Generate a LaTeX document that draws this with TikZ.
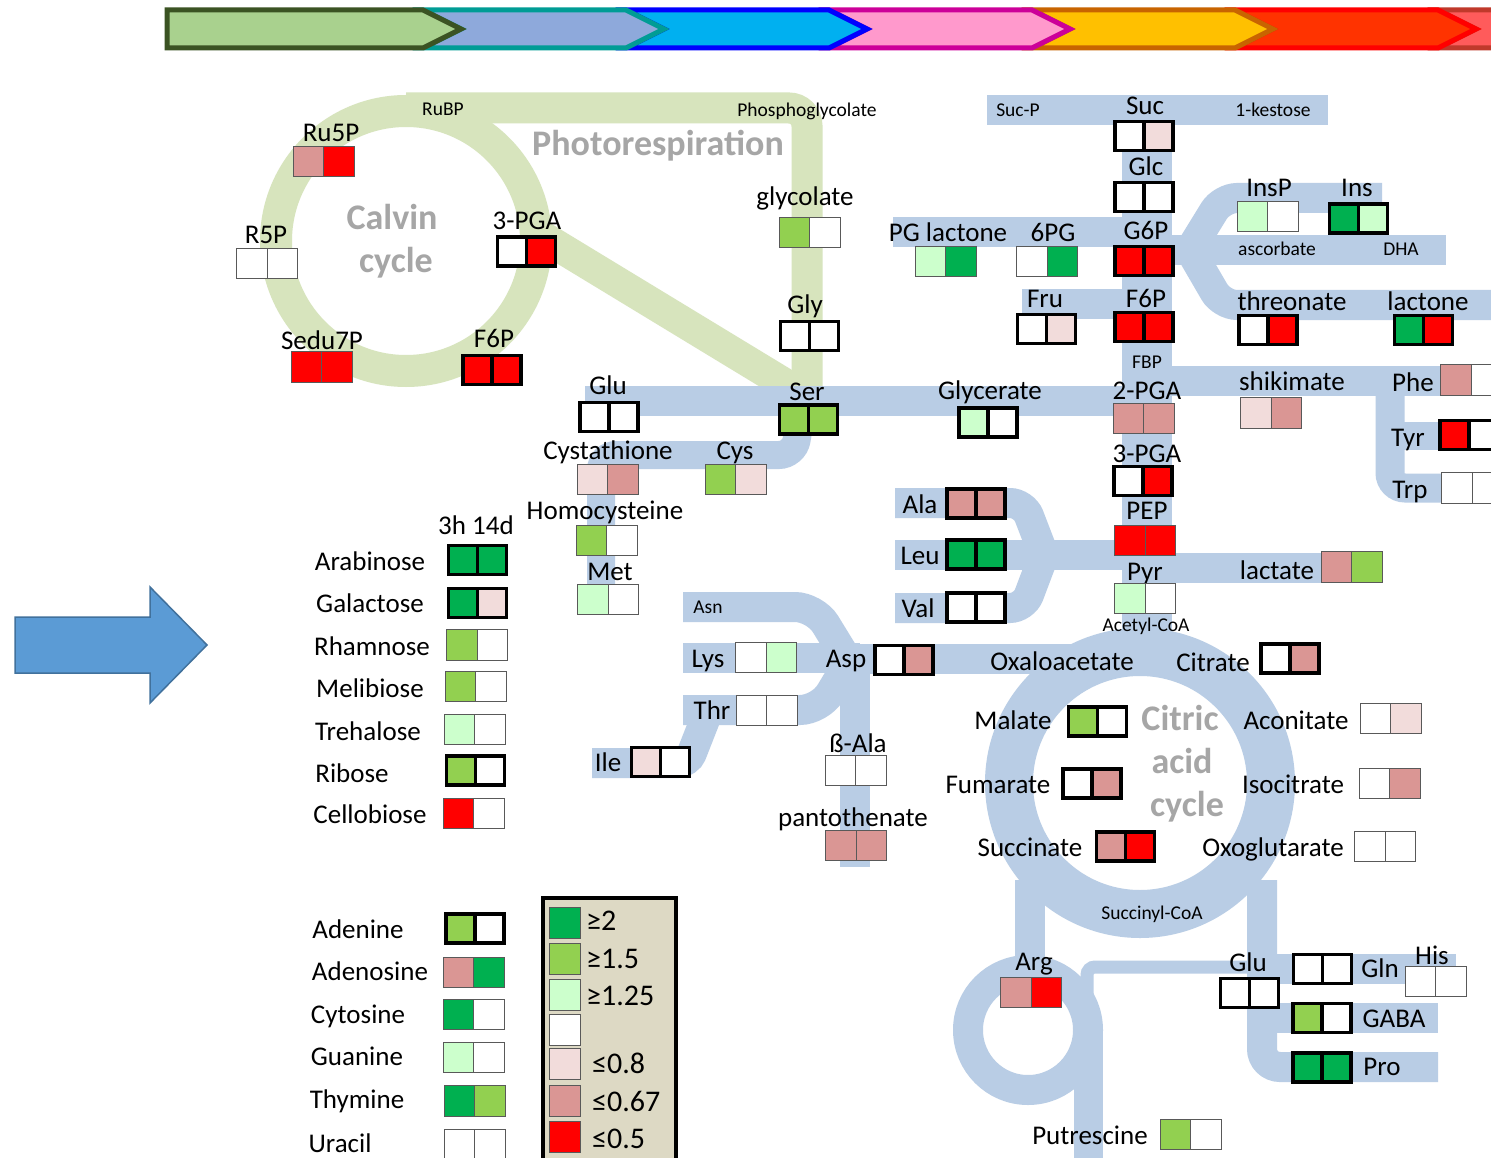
\documentclass[tikz,border=0pt]{standalone}
\usepackage{fontspec}
\setmainfont{Carlito}
\definecolor{dg}{HTML}{00B050}
\definecolor{lg}{HTML}{92D050}
\definecolor{pg}{HTML}{CCFFCC}
\definecolor{pr}{HTML}{F2DCDB}
\definecolor{mr}{HTML}{DA9694}
\definecolor{rr}{HTML}{FF0000}
\definecolor{band}{HTML}{B9CDE5}
\definecolor{gband}{HTML}{D7E4BD}
\definecolor{ttlgray}{HTML}{A6A6A6}
\definecolor{lgd}{HTML}{DDD9C4}
\definecolor{arrowblue}{HTML}{5B9BD5}
\definecolor{arrowedge}{HTML}{41719C}
\definecolor{c1f}{HTML}{A9D18E}\definecolor{c1d}{HTML}{3B5323}
\definecolor{c2f}{HTML}{8EA9DB}\definecolor{c2d}{HTML}{009C95}
\definecolor{c3f}{HTML}{00B0F0}\definecolor{c3d}{HTML}{0000FF}
\definecolor{c4f}{HTML}{FF99CC}\definecolor{c4d}{HTML}{CC0099}
\definecolor{c5f}{HTML}{FFC000}\definecolor{c5d}{HTML}{C86400}
\definecolor{c6f}{HTML}{FF3300}\definecolor{c6d}{HTML}{FF0000}
\definecolor{c7f}{HTML}{FF5B5B}\definecolor{c7d}{HTML}{C0392B}
\newcommand\twocell[5]{%
  \node[#5, fill=#3, anchor=east] (#1-a) at (#2) {};
  \node[#5, fill=#4, anchor=west] (#1-b) at (#2) {};}
\newcommand\chev[4]{% left notch x, tip x, fill, draw
  \draw[fill=#3, draw=#4, line width=5pt, line join=miter] (#1-38,10) -- (#2-38,10) -- (#2,29) -- (#2-38,48) -- (#1-38,48) -- (#1,29) -- cycle;}
\begin{document}
\begin{tikzpicture}[x=1pt,y=-1pt,
  thn/.style={draw=black!65, line width=1pt, minimum width=30.5pt, minimum height=30.5pt, inner sep=0pt, outer sep=0pt},
  thk/.style={draw=black, line width=3.5pt, minimum width=29pt, minimum height=29pt, inner sep=0pt, outer sep=0pt},
  lab/.style={font=\fontsize{27}{32}\selectfont, anchor=base, yshift=-9pt, inner sep=0pt},
  lgl/.style={font=\fontsize{30}{34}\selectfont, anchor=base west, yshift=-10pt, inner sep=0pt},
  sml/.style={font=\fontsize{19.5}{23}\selectfont, anchor=base, yshift=-6.5pt, inner sep=0pt},
  ttl/.style={font=\fontsize{36}{40}\selectfont\bfseries, text=ttlgray, anchor=base, yshift=-12pt, inner sep=0pt},
  bband/.style={draw=band, line width=30pt, rounded corners=15pt},
  gbandst/.style={draw=gband, line width=31pt, rounded corners=18pt},
]
\clip (0,0) rectangle (1491,1158);
\fill[white] (0,0) rectangle (1491,1158);

% ---- top chevron bar
\chev{1476}{1680}{c7f}{c7d}
\chev{1273}{1476}{c6f}{c6d}
\chev{1070}{1273}{c5f}{c5d}
\chev{867}{1070}{c4f}{c4d}
\chev{664}{867}{c3f}{c3d}
\chev{461}{664}{c2f}{c2d}
\draw[fill=c1f, draw=c1d, line width=5pt, line join=miter] (167,10) -- (423,10) -- (461,29) -- (423,48) -- (167,48) -- cycle;

% ---- big arrow
\draw[fill=arrowblue, draw=arrowedge, line width=1.5pt] (15,617) -- (150,617) -- (150,587) -- (207,645) -- (150,703) -- (150,673) -- (15,673) -- cycle;

% ---- green bands (Calvin, photorespiration)
\draw[draw=gband, line width=32pt] (406,241) circle[radius=130];
\draw[gbandst] (406,108) -- (807,108) -- (807,402);
\draw[draw=gband, line width=31pt] (535,232) -- (805,396);

% ---- blue bands
\draw[bband] (987,110) -- (1328,110);
\draw[draw=band, line width=50pt] (1147,110) -- (1147,645);
\draw[bband] (893,232) -- (1147,232);
\draw[bband] (1022,304) -- (1147,304);
\draw[bband] (1147,250) -- (1446,250);
\draw[bband] (1190,250) -- (1222,198) -- (1382,198);
\draw[bband] (1190,250) -- (1222,305) -- (1491,305);
\draw[bband] (1147,381) -- (1455,381);
\draw[bband, line width=29pt] (1390,381) -- (1390,488) -- (1445,488);
\draw[bband, line width=28pt] (1390,436) -- (1445,436);
\draw[bband] (585,401) -- (1147,401);
\draw[bband, line width=28pt] (800,420) -- (794,455) -- (601,455) -- (601,600);
\draw[bband] (895,555) -- (1147,555);
\draw[bband, rounded corners=14pt] (895,503) -- (1024,503) -- (1044,555);
\draw[bband, rounded corners=14pt] (895,608) -- (1024,608) -- (1044,555);
\draw[bband] (1147,568) -- (1330,568);
\draw[bband, rounded corners=20pt] (683,607) -- (815,607) -- (850,664);
\draw[bband] (683,658) -- (860,658);
\draw[bband, rounded corners=20pt] (683,710) -- (820,710) -- (850,660);
\draw[bband, rounded corners=10pt] (592,763) -- (688,763) -- (708,712);
\draw[draw=band, line width=30pt] (855,658) -- (855,867);
\draw[draw=band, line width=30pt] (855,659) -- (1075,659);
\draw[draw=band, line width=48pt] (1140,783) circle[radius=131];
\draw[draw=band, line width=30pt] (1030,880) -- (1030,978);
\draw[bband, rounded corners=18pt] (1262,880) -- (1262,1067) -- (1438,1067);
\draw[bband] (1262,1018) -- (1438,1018);
\draw[bband] (1262,969) -- (1456,969);
\draw[draw=band, line width=30pt] (1028,1030) circle[radius=60];
\draw[draw=band, line width=29pt] (1088,1030) -- (1088,1162);
\draw[draw=band, line width=13pt, rounded corners=8pt] (1087,1010) -- (1087,967) -- (1250,967);

% ---- titles
\node[ttl] (t-photo) at (658,144) {Photorespiration};
\node[ttl] (t-calvin) at (392,218) {Calvin};
\node[ttl] (t-cycle) at (396,261) {cycle};
\node[ttl] (t-citric) at (1180,718) {Citric};
\node[ttl] (t-acid) at (1182,761) {acid};
\node[ttl] (t-cycle2) at (1187,804) {cycle};

% ---- small labels
\node[sml] (s-rubp) at (443,109) {RuBP};
\node[sml] (s-pglyc) at (807,110) {Phosphoglycolate};
\node[sml] (s-sucp) at (1018,110) {Suc-P};
\node[sml] (s-kest) at (1273,110) {1-kestose};
\node[sml] (s-fbp) at (1147,362) {FBP};
\node[sml] (s-asc) at (1277,249) {ascorbate};
\node[sml] (s-dha) at (1401,249) {DHA};
\node[sml] (s-acoa) at (1146,625) {Acetyl-CoA};
\node[sml] (s-asn) at (708,607) {Asn};
\node[sml] (s-succoa) at (1152,913) {Succinyl-CoA};

% ---- labels
\node[lab] (l-ru5p) at (331,133) {Ru5P};
\node[lab] (l-r5p) at (266,235) {R5P};
\node[lab] (l-sedu) at (322,340) {Sedu7P};
\node[lab] (l-pga1) at (527,221) {3-PGA};
\node[lab] (l-f6p1) at (494,338) {F6P};
\node[lab] (l-glycolate) at (805,197) {glycolate};
\node[lab] (l-gly) at (805,304) {Gly};
\node[lab] (l-suc) at (1145,106) {Suc};
\node[lab] (l-glc) at (1146,167) {Glc};
\node[lab] (l-pgl) at (948,233) {PG lactone};
\node[lab] (l-6pg) at (1053,233) {6PG};
\node[lab] (l-g6p) at (1146,231) {G6P};
\node[lab] (l-fru) at (1045,299) {Fru};
\node[lab] (l-f6p) at (1146,299) {F6P};
\node[lab] (l-insp) at (1269,188) {InsP};
\node[lab] (l-ins) at (1357,188) {Ins};
\node[lab] (l-threo) at (1292,301) {threonate};
\node[lab] (l-lact) at (1428,301) {lactone};
\node[lab] (l-glu) at (608,385) {Glu};
\node[lab] (l-ser) at (807,391) {Ser};
\node[lab] (l-glyc) at (990,390) {Glycerate};
\node[lab] (l-2pga) at (1147,390) {2-PGA};
\node[lab] (l-3pga) at (1147,453) {3-PGA};
\node[lab] (l-pep) at (1147,510) {PEP};
\node[lab] (l-pyr) at (1145,571) {Pyr};
\node[lab] (l-shik) at (1292,381) {shikimate};
\node[lab] (l-phe) at (1413,382) {Phe};
\node[lab] (l-tyr) at (1408,437) {Tyr};
\node[lab] (l-trp) at (1410,489) {Trp};
\node[lab] (l-lactate) at (1277,570) {lactate};
\node[lab] (l-cysta) at (608,450) {Cystathione};
\node[lab] (l-cys) at (735,450) {Cys};
\node[lab] (l-homo) at (605,510) {Homocysteine};
\node[lab] (l-met) at (610,571) {Met};
\node[lab] (l-ala) at (920,504) {Ala};
\node[lab] (l-leu) at (920,555) {Leu};
\node[lab] (l-val) at (918,608) {Val};
\node[lab] (l-lys) at (708,658) {Lys};
\node[lab] (l-asp) at (846,658) {Asp};
\node[lab] (l-thr) at (712,710) {Thr};
\node[lab] (l-ile) at (608,762) {Ile};
\node[lab] (l-bala) at (858,743) {ß-Ala};
\node[lab] (l-panto) at (853,817) {pantothenate};
\node[lab] (l-oaa) at (1062,661) {Oxaloacetate};
\node[lab] (l-cit) at (1213,662) {Citrate};
\node[lab] (l-mal) at (1013,720) {Malate};
\node[lab] (l-acon) at (1296,720) {Aconitate};
\node[lab] (l-fum) at (998,784) {Fumarate};
\node[lab] (l-iso) at (1293,784) {Isocitrate};
\node[lab] (l-succ) at (1030,847) {Succinate};
\node[lab] (l-oxo) at (1273,847) {Oxoglutarate};
\node[lab] (l-arg) at (1034,961) {Arg};
\node[lab] (l-glu2) at (1248,962) {Glu};
\node[lab] (l-gln) at (1380,968) {Gln};
\node[lab] (l-his) at (1432,955) {His};
\node[lab] (l-gaba) at (1394,1018) {GABA};
\node[lab] (l-pro) at (1382,1066) {Pro};
\node[lab] (l-put) at (1090,1135) {Putrescine};
\node[lab] (l-head) at (476,525) {3h 14d};
\node[lab] (l-arab) at (370,561) {Arabinose};
\node[lab] (l-gal) at (370,603) {Galactose};
\node[lab] (l-rham) at (372,646) {Rhamnose};
\node[lab] (l-meli) at (370,688) {Melibiose};
\node[lab] (l-treh) at (368,731) {Trehalose};
\node[lab] (l-rib) at (352,773) {Ribose};
\node[lab] (l-cello) at (370,814) {Cellobiose};
\node[lab] (l-aden) at (358,929) {Adenine};
\node[lab] (l-adeno) at (370,971) {Adenosine};
\node[lab] (l-cyto) at (358,1014) {Cytosine};
\node[lab] (l-guan) at (357,1056) {Guanine};
\node[lab] (l-thym) at (357,1099) {Thymine};
\node[lab] (l-ura) at (340,1143) {Uracil};

% ---- boxes
\twocell{b-ru5p}{323.5,161.5}{mr}{rr}{thn}
\twocell{b-r5p}{267,263.5}{white}{white}{thn}
\twocell{b-sedu}{321.5,367}{rr}{rr}{thn}
\twocell{b-pga1}{526.5,251.5}{white}{rr}{thk}
\twocell{b-f6p1}{492,370}{rr}{rr}{thk}
\twocell{b-glycolate}{809.5,232.5}{lg}{white}{thn}
\twocell{b-gly}{809.5,336}{white}{white}{thk}
\twocell{b-suc}{1144,136}{white}{pr}{thk}
\twocell{b-glc}{1144,197}{white}{white}{thk}
\twocell{b-g6p}{1144,261}{rr}{rr}{thk}
\twocell{b-pgl}{945.5,261.5}{pg}{dg}{thn}
\twocell{b-6pg}{1047,261.5}{white}{dg}{thn}
\twocell{b-fru}{1046.5,329}{white}{pr}{thk}
\twocell{b-f6p}{1144,327}{rr}{rr}{thk}
\twocell{b-insp}{1267.5,216.5}{pg}{white}{thn}
\twocell{b-ins}{1358.5,218.5}{dg}{pg}{thk}
\twocell{b-threo}{1268,330}{white}{rr}{thk}
\twocell{b-lact}{1423.5,330}{dg}{rr}{thk}
\twocell{b-2pga}{1143.5,418.5}{mr}{mr}{thn}
\twocell{b-3pga}{1143,481}{white}{rr}{thk}
\twocell{b-pep}{1145,540.5}{rr}{rr}{thn}
\twocell{b-pyr}{1145,598.5}{pg}{white}{thn}
\twocell{b-shik}{1271,413}{pr}{mr}{thn}
\twocell{b-phe}{1471,380}{mr}{white}{thn}
\twocell{b-tyr}{1469,435}{rr}{white}{thk}
\twocell{b-trp}{1472,488}{white}{white}{thn}
\twocell{b-lactate}{1351.5,567}{mr}{lg}{thn}
\twocell{b-glu}{609,417}{white}{white}{thk}
\twocell{b-ser}{808.5,419.5}{lg}{lg}{thk}
\twocell{b-glyc}{988,422.5}{pg}{white}{thk}
\twocell{b-cysta}{607.5,479.5}{pr}{mr}{thn}
\twocell{b-cys}{735.5,479.5}{lg}{pr}{thn}
\twocell{b-homo}{606.5,540.5}{lg}{white}{thn}
\twocell{b-met}{608,599.5}{pg}{white}{thn}
\twocell{b-ala}{976,503.5}{mr}{mr}{thk}
\twocell{b-leu}{976,554.5}{dg}{dg}{thk}
\twocell{b-val}{976,607.5}{white}{white}{thk}
\twocell{b-lys}{766,657.5}{white}{pg}{thn}
\twocell{b-thr}{766.5,710.5}{white}{white}{thn}
\twocell{b-ile}{660.5,762}{pr}{white}{thk}
\twocell{b-asp}{904,660}{white}{mr}{thk}
\twocell{b-bala}{855.5,770.5}{white}{white}{thn}
\twocell{b-panto}{856,845.5}{mr}{mr}{thn}
\twocell{b-cit}{1290,658.5}{white}{mr}{thk}
\twocell{b-mal}{1097.5,721.5}{lg}{white}{thk}
\twocell{b-acon}{1390.5,718.5}{white}{pr}{thn}
\twocell{b-fum}{1092,783.5}{white}{mr}{thk}
\twocell{b-iso}{1389.5,783.5}{white}{mr}{thn}
\twocell{b-succ}{1125.5,846.5}{mr}{rr}{thk}
\twocell{b-oxo}{1385,846.5}{white}{white}{thn}
\twocell{b-arg}{1031,992.5}{mr}{rr}{thn}
\twocell{b-glu2}{1249.5,993}{white}{white}{thk}
\twocell{b-gln}{1322.5,969}{white}{white}{thk}
\twocell{b-his}{1435.5,981.5}{white}{white}{thn}
\twocell{b-gaba}{1322,1018}{lg}{white}{thk}
\twocell{b-pro}{1322,1067.5}{dg}{dg}{thk}
\twocell{b-put}{1190.5,1134.5}{lg}{white}{thn}
\twocell{b-arab}{477.5,560}{dg}{dg}{thk}
\twocell{b-gal}{477.5,603}{dg}{pr}{thk}
\twocell{b-rham}{477,645}{lg}{white}{thn}
\twocell{b-meli}{475.5,686.5}{lg}{white}{thn}
\twocell{b-treh}{474.5,729.5}{pg}{white}{thn}
\twocell{b-rib}{475.5,770.5}{lg}{white}{thk}
\twocell{b-cello}{473.5,813.5}{rr}{white}{thn}
\twocell{b-aden}{475,928.5}{lg}{white}{thk}
\twocell{b-adeno}{473.5,972.5}{mr}{dg}{thn}
\twocell{b-cyto}{473.5,1014.5}{dg}{white}{thn}
\twocell{b-guan}{473.5,1057.5}{pg}{white}{thn}
\twocell{b-thym}{474.5,1101}{dg}{lg}{thn}
\twocell{b-ura}{474.5,1144.5}{white}{white}{thn}

% ---- legend
\node[draw=black, fill=lgd, line width=3.5pt, minimum width=133pt, minimum height=280pt, inner sep=0pt, anchor=north west] (legend) at (541,896) {};
\node[thn, fill=dg] (k1) at (565,923) {};
\node[thn, fill=lg] (k2) at (565,959) {};
\node[thn, fill=pg] (k3) at (565,995) {};
\node[thn, fill=white] (k4) at (565,1030) {};
\node[thn, fill=pr] (k5) at (565,1064) {};
\node[thn, fill=mr] (k6) at (565,1101) {};
\node[thn, fill=rr] (k7) at (565,1137) {};
\node[lgl] (kl1) at (586,920) {≥2};
\node[lgl] (kl2) at (586,958) {≥1.5};
\node[lgl] (kl3) at (586,995) {≥1.25};
\node[lgl] (kl5) at (592,1063) {≤0.8};
\node[lgl] (kl6) at (592,1101) {≤0.67};
\node[lgl] (kl7) at (592,1138) {≤0.5};
\end{tikzpicture}
\end{document}
